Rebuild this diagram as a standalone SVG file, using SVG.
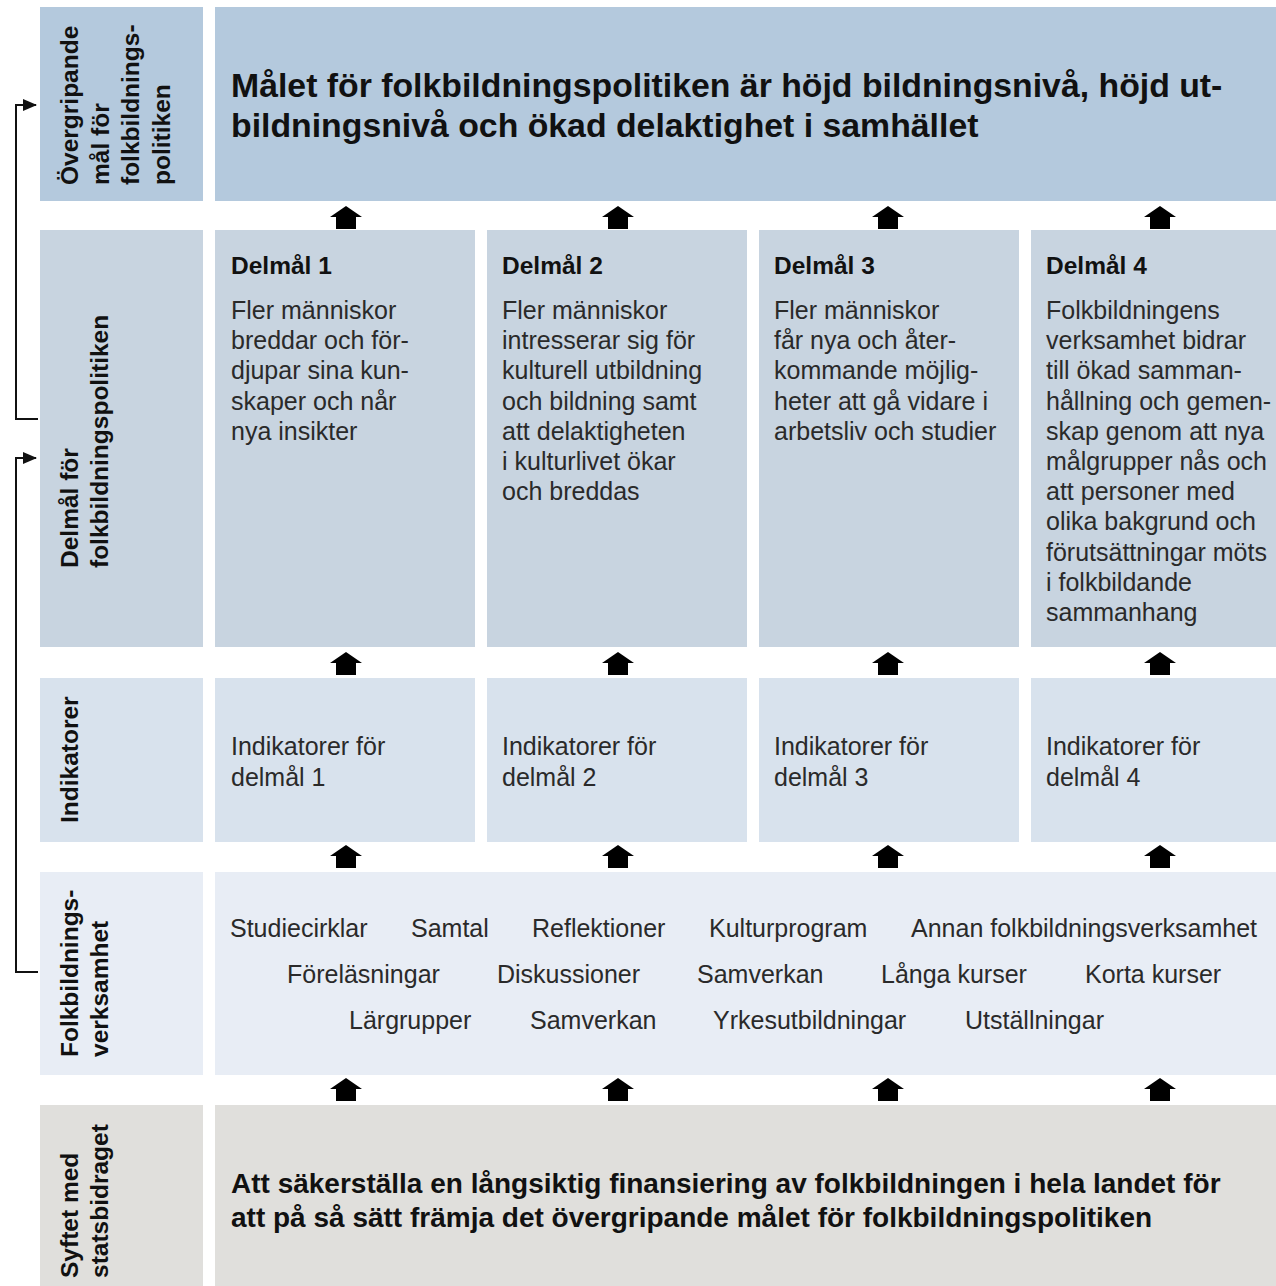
<svg xmlns="http://www.w3.org/2000/svg" width="1276" height="1286" viewBox="0 0 1276 1286">
<style>
.r1{fill:#b4c9dd}.r2{fill:#c8d4e0}.r3{fill:#d8e2ed}.r4{fill:#e8edf5}.r5{fill:#e0dfdc}
.lab{font-family:"Liberation Sans",Arial,sans-serif;font-weight:bold;font-size:24.5px;fill:#111}
.big{font-family:"Liberation Sans",Arial,sans-serif;font-weight:bold;font-size:33.8px;fill:#111}
.big2{font-family:"Liberation Sans",Arial,sans-serif;font-weight:bold;font-size:28px;fill:#111}
.hd{font-family:"Liberation Sans",Arial,sans-serif;font-weight:bold;font-size:24.5px;fill:#111}
.bd{font-family:"Liberation Sans",Arial,sans-serif;font-size:25px;fill:#2a2a2a}
.ln{fill:none;stroke:#111;stroke-width:2}
.blk{fill:#000}
</style>
<defs>
<path id="up" d="M0,0 L16,11 L10,11 L10,23 L-10,23 L-10,11 L-16,11 Z"/>
<marker id="ah" markerWidth="14" markerHeight="12" refX="13" refY="6" orient="auto" markerUnits="userSpaceOnUse">
<path d="M0,0 L14,6 L0,12 Z" fill="#111"/>
</marker>
</defs>
<rect width="1276" height="1286" fill="#fff"/>

<g id="row1">
<g id="label-overgripande">
<rect class="r1" x="40" y="7" width="163" height="194"/>
<text class="lab" transform="translate(78,185) rotate(-90)"><tspan x="0" y="0">Övergripande</tspan><tspan x="0" dy="30.5">mål för</tspan><tspan x="0" dy="30.5">folkbildnings-</tspan><tspan x="0" dy="30.5">politiken</tspan></text>
</g>
<g id="overgripande-mal">
<rect class="r1" x="215" y="7" width="1061" height="194"/>
<text class="big" x="231" y="97">Målet för folkbildningspolitiken är höjd bildningsnivå, höjd ut-</text>
<text class="big" x="231" y="136.5">bildningsnivå och ökad delaktighet i samhället</text>
</g>
</g>

<g id="row2">
<g id="label-delmal">
<rect class="r2" x="40" y="230" width="163" height="417"/>
<text class="lab" transform="translate(78,568) rotate(-90)"><tspan x="0" y="0">Delmål för</tspan><tspan x="0" dy="29.5">folkbildningspolitiken</tspan></text>
</g>
<g id="delmal-1">
<rect class="r2" x="215" y="230" width="260" height="417"/>
<text class="hd" x="231" y="274">Delmål 1</text>
<text class="bd"><tspan x="231" y="319">Fler människor</tspan><tspan x="231" dy="30.2">breddar och för-</tspan><tspan x="231" dy="30.2">djupar sina kun-</tspan><tspan x="231" dy="30.2">skaper och når</tspan><tspan x="231" dy="30.2">nya insikter</tspan></text>
</g>
<g id="delmal-2">
<rect class="r2" x="487" y="230" width="260" height="417"/>
<text class="hd" x="502" y="274">Delmål 2</text>
<text class="bd"><tspan x="502" y="319">Fler människor</tspan><tspan x="502" dy="30.2">intresserar sig för</tspan><tspan x="502" dy="30.2">kulturell utbildning</tspan><tspan x="502" dy="30.2">och bildning samt</tspan><tspan x="502" dy="30.2">att delaktigheten</tspan><tspan x="502" dy="30.2">i kulturlivet ökar</tspan><tspan x="502" dy="30.2">och breddas</tspan></text>
</g>
<g id="delmal-3">
<rect class="r2" x="759" y="230" width="260" height="417"/>
<text class="hd" x="774" y="274">Delmål 3</text>
<text class="bd"><tspan x="774" y="319">Fler människor</tspan><tspan x="774" dy="30.2">får nya och åter-</tspan><tspan x="774" dy="30.2">kommande möjlig-</tspan><tspan x="774" dy="30.2">heter att gå vidare i</tspan><tspan x="774" dy="30.2">arbetsliv och studier</tspan></text>
</g>
<g id="delmal-4">
<rect class="r2" x="1031" y="230" width="245" height="417"/>
<text class="hd" x="1046" y="274">Delmål 4</text>
<text class="bd"><tspan x="1046" y="319">Folkbildningens</tspan><tspan x="1046" dy="30.2">verksamhet bidrar</tspan><tspan x="1046" dy="30.2">till ökad samman-</tspan><tspan x="1046" dy="30.2">hållning och gemen-</tspan><tspan x="1046" dy="30.2">skap genom att nya</tspan><tspan x="1046" dy="30.2">målgrupper nås och</tspan><tspan x="1046" dy="30.2">att personer med</tspan><tspan x="1046" dy="30.2">olika bakgrund och</tspan><tspan x="1046" dy="30.2">förutsättningar möts</tspan><tspan x="1046" dy="30.2">i folkbildande</tspan><tspan x="1046" dy="30.2">sammanhang</tspan></text>
</g>
</g>

<g id="row3">
<g id="label-indikatorer">
<rect class="r3" x="40" y="678" width="163" height="164"/>
<text class="lab" transform="translate(78,823) rotate(-90)">Indikatorer</text>
</g>
<g id="indikatorer-1">
<rect class="r3" x="215" y="678" width="260" height="164"/>
<text class="bd"><tspan x="231" y="755">Indikatorer för</tspan><tspan x="231" dy="30.5">delmål 1</tspan></text>
</g>
<g id="indikatorer-2">
<rect class="r3" x="487" y="678" width="260" height="164"/>
<text class="bd"><tspan x="502" y="755">Indikatorer för</tspan><tspan x="502" dy="30.5">delmål 2</tspan></text>
</g>
<g id="indikatorer-3">
<rect class="r3" x="759" y="678" width="260" height="164"/>
<text class="bd"><tspan x="774" y="755">Indikatorer för</tspan><tspan x="774" dy="30.5">delmål 3</tspan></text>
</g>
<g id="indikatorer-4">
<rect class="r3" x="1031" y="678" width="245" height="164"/>
<text class="bd"><tspan x="1046" y="755">Indikatorer för</tspan><tspan x="1046" dy="30.5">delmål 4</tspan></text>
</g>
</g>

<g id="row4">
<g id="label-verksamhet">
<rect class="r4" x="40" y="872" width="163" height="203"/>
<text class="lab" transform="translate(78,1057) rotate(-90)"><tspan x="0" y="0">Folkbildnings-</tspan><tspan x="0" dy="29.5">verksamhet</tspan></text>
</g>
<g id="verksamhet">
<rect class="r4" x="215" y="872" width="1061" height="203"/>
<text class="bd">
<tspan x="230" y="937">Studiecirklar</tspan><tspan x="411" y="937">Samtal</tspan><tspan x="532" y="937">Reflektioner</tspan><tspan x="709" y="937">Kulturprogram</tspan><tspan x="911" y="937">Annan folkbildningsverksamhet</tspan>
<tspan x="287" y="983">Föreläsningar</tspan><tspan x="497" y="983">Diskussioner</tspan><tspan x="697" y="983">Samverkan</tspan><tspan x="881" y="983">Långa kurser</tspan><tspan x="1085" y="983">Korta kurser</tspan>
<tspan x="349" y="1029">Lärgrupper</tspan><tspan x="530" y="1029">Samverkan</tspan><tspan x="713" y="1029">Yrkesutbildningar</tspan><tspan x="965" y="1029">Utställningar</tspan>
</text>
</g>
</g>

<g id="row5">
<g id="label-syftet">
<rect class="r5" x="40" y="1105" width="163" height="181"/>
<text class="lab" transform="translate(78,1278) rotate(-90)"><tspan x="0" y="0">Syftet med</tspan><tspan x="0" dy="29.5">statsbidraget</tspan></text>
</g>
<g id="syftet">
<rect class="r5" x="215" y="1105" width="1061" height="181"/>
<text class="big2" x="231" y="1193">Att säkerställa en långsiktig finansiering av folkbildningen i hela landet för</text>
<text class="big2" x="231" y="1227">att på så sätt främja det övergripande målet för folkbildningspolitiken</text>
</g>
</g>

<g id="connectors">
<path class="ln" d="M38,419 H16 V105 H36" marker-end="url(#ah)"/>
<path class="ln" d="M38,972 H16 V458 H36" marker-end="url(#ah)"/>
<g class="blk">
<use href="#up" x="346" y="206"/><use href="#up" x="618" y="206"/><use href="#up" x="888" y="206"/><use href="#up" x="1160" y="206"/>
<use href="#up" x="346" y="652"/><use href="#up" x="618" y="652"/><use href="#up" x="888" y="652"/><use href="#up" x="1160" y="652"/>
<use href="#up" x="346" y="845"/><use href="#up" x="618" y="845"/><use href="#up" x="888" y="845"/><use href="#up" x="1160" y="845"/>
<use href="#up" x="346" y="1078"/><use href="#up" x="618" y="1078"/><use href="#up" x="888" y="1078"/><use href="#up" x="1160" y="1078"/>
</g>
</g>
</svg>
